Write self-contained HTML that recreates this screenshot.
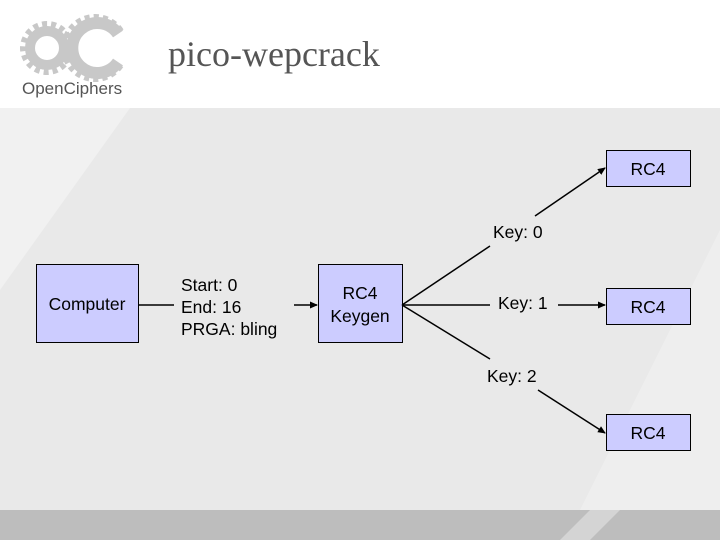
<!DOCTYPE html>
<html><head><style>
body{margin:0;width:720px;height:540px;overflow:hidden;background:#fff;font-family:"Liberation Sans",sans-serif}
</style></head><body>
<svg width="720" height="540" xmlns="http://www.w3.org/2000/svg">
<defs>
<marker id="a" markerWidth="8" markerHeight="8" refX="7" refY="4" orient="auto" markerUnits="userSpaceOnUse"><path d="M0,0.5 L8,4 L0,7.5z" fill="#000"/></marker>
</defs>
<rect x="0" y="108" width="720" height="402" fill="#e9e9e9"/>
<polygon points="0,108 130,108 0,290" fill="#f1f1f1"/>
<polygon points="720,230 720,510 580,510" fill="#eeeeee"/>
<rect x="0" y="510" width="720" height="30" fill="#bdbdbd"/>
<polygon points="560,540 590,510 620,510 590,540" fill="#d4d4d4"/>
<!-- logo -->
<g fill="none">
<circle cx="47" cy="48" r="24" stroke="#c8c8c8" stroke-width="6" stroke-dasharray="5 4"/>
<circle cx="47" cy="48" r="17" stroke="#c8c8c8" stroke-width="10"/>
<path d="M118,34 A25,25 0 1 0 118,62" stroke="#c8c8c8" stroke-width="12"/>
<path d="M121,31 A31,31 0 1 0 121,65" stroke="#c8c8c8" stroke-width="6" stroke-dasharray="5 4"/>
</g>
<text x="22" y="94" font-size="17" fill="#555">OpenCiphers</text>
<text x="168" y="66" font-family="Liberation Serif" font-size="36" fill="#555">pico-wepcrack</text>
<!-- boxes -->
<g fill="#ccccff" stroke="#000" stroke-width="1">
<rect x="36.5" y="264.5" width="102" height="78"/>
<rect x="318.5" y="264.5" width="84" height="78"/>
<rect x="606.5" y="150.5" width="84" height="36"/>
<rect x="606.5" y="288.5" width="84" height="36"/>
<rect x="606.5" y="414.5" width="84" height="36"/>
</g>
<g font-size="17.5" fill="#000">
<text x="87" y="310" text-anchor="middle">Computer</text>
<text x="360" y="299" text-anchor="middle">RC4</text>
<text x="360" y="322" text-anchor="middle">Keygen</text>
<text x="648" y="175" text-anchor="middle">RC4</text>
<text x="648" y="313" text-anchor="middle">RC4</text>
<text x="648" y="439" text-anchor="middle">RC4</text>
<text x="181" y="291">Start: 0</text>
<text x="181" y="313">End: 16</text>
<text x="181" y="335">PRGA: bling</text>
<text x="493" y="238">Key: 0</text>
<text x="498" y="309">Key: 1</text>
<text x="487" y="382">Key: 2</text>
</g>
<g stroke="#000" stroke-width="1.5" fill="none">
<line x1="139" y1="305" x2="174" y2="305"/>
<line x1="294" y1="305" x2="317" y2="305" marker-end="url(#a)"/>
<line x1="402" y1="305" x2="490" y2="246"/>
<line x1="535" y1="216" x2="605" y2="168" marker-end="url(#a)"/>
<line x1="402" y1="305" x2="490" y2="305"/>
<line x1="558" y1="305" x2="605" y2="305" marker-end="url(#a)"/>
<line x1="402" y1="305" x2="490" y2="359"/>
<line x1="538" y1="390" x2="605" y2="433" marker-end="url(#a)"/>
</g>
</svg>
</body></html>
